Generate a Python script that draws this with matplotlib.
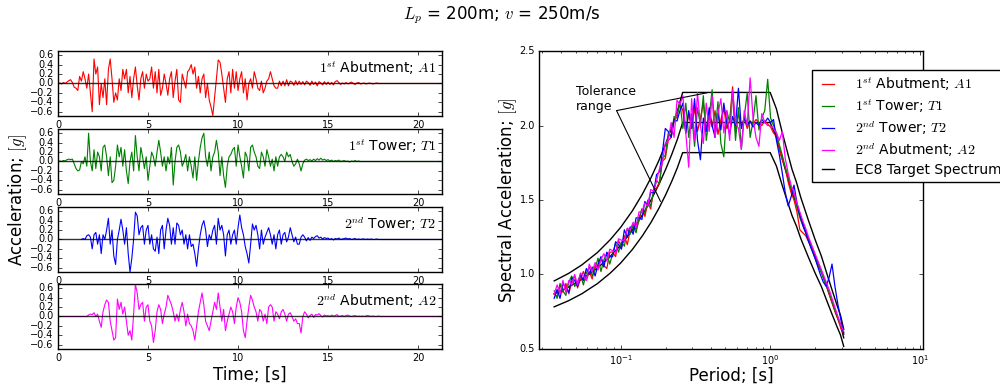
import numpy as np
import matplotlib
matplotlib.use("Agg")
import matplotlib.pyplot as plt

# %%
# Accelerograms, sampled every 0.1 s (read off the reference)
dt = 0.1

acc_A1 = [
    0.0, 0.01, -0.01, 0.02, 0.0, 0.03, 0.06, 0.08, 0.02, -0.08,
    -0.1, -0.15, 0.15, 0.05, 0.25, 0.1, -0.1, 0.2, -0.2, -0.6,
    0.52, 0.2, 0.35, -0.45, 0.0, -0.3, 0.1, -0.45, 0.3, 0.52,
    0.1, -0.4, -0.2, -0.35, 0.1, -0.15, 0.3, 0.1, 0.3, -0.2,
    0.15, -0.3, 0.1, 0.35, -0.05, -0.35, 0.1, 0.25, -0.1, 0.2,
    0.05, 0.1, 0.35, -0.1, 0.25, -0.2, 0.3, -0.25, -0.1, 0.2,
    0.0, -0.25, 0.1, 0.25, -0.3, 0.05, 0.3, -0.35, -0.4, 0.2,
    0.05, -0.1, 0.25, 0.3, 0.4, 0.2, 0.35, -0.1, 0.15, -0.2,
    0.1, 0.2, -0.3, 0.0, -0.35, -0.5, -0.68, -0.3, 0.1, 0.5,
    0.45, 0.2, -0.1, -0.4, 0.1, 0.25, -0.2, 0.3, -0.1, 0.25,
    -0.15, 0.1, 0.25, -0.2, 0.1, -0.35, 0.0, 0.1, -0.1, 0.25,
    0.1, -0.1, -0.15, 0.05, -0.2, -0.1, 0.05, 0.1, 0.25, 0.1,
    -0.05, -0.1, -0.1, 0.05, -0.05, 0.05, -0.05, 0.08, -0.05, 0.05,
    0.03, -0.04, 0.06, -0.03, 0.05, -0.02, 0.04, -0.03, 0.05, 0.02,
    -0.04, 0.05, -0.02, 0.03, -0.05, 0.04, 0.01, -0.03, 0.04, -0.02,
    0.03, -0.02, 0.02, -0.03, 0.04, 0.06, 0.02, -0.02, 0.01, -0.01,
    0.02, -0.01, 0.01, 0.03, 0.0, -0.02, 0.01, 0.02, -0.01, 0.0,
    0.01, -0.01, 0.0, 0.01, 0.0, -0.01, 0.0, 0.01, 0.0, 0.0,
    0.0, 0.0, 0.0, 0.0, 0.0, 0.0, 0.0, 0.0, 0.0, 0.0,
    0.0, 0.0, 0.0, 0.0, 0.0, 0.0, 0.0, 0.0, 0.0, 0.0,
    0.0, 0.0, 0.0, 0.0, 0.0, 0.0, 0.0, 0.0, 0.0, 0.0,
    0.0, 0.0, 0.0, 0.0,
]

acc_T1 = [
    0.0, 0.01, 0.0, 0.02, 0.01, 0.04, 0.05, 0.04, 0.05, -0.05,
    -0.15, -0.2, -0.18, 0.0, -0.05, 0.1, -0.1, 0.6, 0.0, -0.2,
    0.25, -0.15, 0.2, 0.1, -0.2, 0.3, 0.35, 0.1, -0.3, 0.1,
    -0.45, -0.4, -0.1, 0.35, 0.1, 0.3, -0.1, 0.25, -0.2, -0.47,
    0.0, 0.2, -0.2, 0.55, 0.1, -0.2, 0.3, 0.1, -0.15, 0.1,
    -0.4, -0.1, 0.2, 0.1, -0.1, 0.2, 0.45, 0.2, -0.1, 0.1,
    -0.2, 0.1, -0.05, 0.3, -0.5, 0.0, 0.3, 0.35, 0.2, -0.1,
    0.0, 0.15, -0.2, 0.1, -0.1, -0.35, 0.1, -0.4, 0.0, 0.3,
    0.5, 0.6, 0.1, -0.1, 0.2, -0.2, 0.1, 0.2, 0.45, 0.2,
    -0.3, 0.1, -0.3, -0.55, -0.1, 0.1, 0.15, 0.25, 0.3, -0.1,
    0.35, 0.1, -0.1, -0.35, 0.2, 0.1, -0.2, 0.3, 0.35, 0.2,
    0.1, -0.1, -0.15, 0.2, 0.1, -0.1, 0.25, 0.1, -0.1, 0.05,
    -0.2, 0.1, -0.1, 0.1, 0.15, 0.1, 0.0, 0.2, 0.1, 0.15,
    0.0, -0.1, -0.05, 0.05, -0.05, -0.2, -0.05, 0.03, 0.05, 0.02,
    0.04, 0.01, 0.05, 0.02, 0.06, 0.03, 0.07, 0.03, 0.05, 0.02,
    0.04, 0.01, 0.03, 0.0, 0.02, 0.01, 0.03, 0.0, 0.01, 0.02,
    0.0, 0.01, -0.01, 0.01, 0.0, 0.02, 0.0, 0.01, 0.0, 0.0,
    0.0, 0.0, 0.0, 0.0, 0.0, 0.0, 0.0, 0.0, 0.0, 0.0,
    0.0, 0.0, 0.0, 0.0, 0.0, 0.0, 0.0, 0.0, 0.0, 0.0,
    0.0, 0.0, 0.0, 0.0, 0.0, 0.0, 0.0, 0.0, 0.0, 0.0,
    0.0, 0.0, 0.0, 0.0, 0.0, 0.0, 0.0, 0.0, 0.0, 0.0,
    0.0, 0.0, 0.0, 0.0,
]

# T2 record starts at 1.3 s
acc_T2_start = 1.3
acc_T2 = [
    0.0, 0.02, 0.0, 0.08, 0.1, 0.05, -0.2,
    0.1, 0.15, -0.1, 0.1, -0.3, 0.1, 0.0, 0.2, 0.45, -0.1,
    0.2, -0.35, -0.53, 0.0, 0.2, 0.43, 0.2, -0.1, 0.25, -0.3,
    -0.69, -0.4, 0.0, 0.58, 0.5, 0.1, 0.25, 0.3, -0.1, 0.2,
    0.3, -0.1, 0.1, -0.2, -0.25, 0.05, -0.3, 0.2, 0.3, -0.2,
    0.2, 0.45, 0.3, -0.1, 0.25, -0.1, 0.35, 0.3, 0.1, 0.2,
    -0.1, 0.1, -0.2, 0.1, -0.15, -0.1, -0.3, -0.57, -0.2, 0.1,
    0.3, 0.4, 0.2, -0.15, 0.1, 0.0, 0.2, 0.3, -0.1, 0.45,
    0.2, 0.3, 0.1, -0.35, 0.1, 0.2, -0.1, 0.1, 0.2, -0.1,
    0.25, 0.52, 0.25, 0.1, -0.15, -0.3, -0.5, -0.1, 0.33, 0.2,
    0.3, 0.1, -0.2, 0.2, -0.1, 0.05, 0.15, 0.25, 0.1, -0.1,
    0.1, -0.2, 0.1, 0.2, -0.1, 0.1, 0.15, -0.05, 0.05, 0.25,
    0.1, -0.05, 0.05, -0.1, -0.1, 0.05, 0.1, 0.05, -0.03, 0.04,
    -0.02, 0.05, 0.02, 0.06, 0.08, 0.03, 0.05, 0.01, 0.04, 0.02,
    0.03, 0.0, 0.02, -0.01, 0.02, 0.01, 0.03, 0.0, 0.01, 0.02,
    0.03, 0.01, 0.02, 0.0, 0.01, 0.02, 0.0, 0.01, 0.0, 0.01,
    0.01, 0.0, 0.01, 0.0, 0.01, 0.0, 0.0, 0.01, 0.0, 0.0,
    0.0, 0.0, 0.0, 0.0, 0.0, 0.0, 0.0, 0.0, 0.0, 0.0,
    0.0, 0.0, 0.0, 0.0, 0.0, 0.0, 0.0, 0.0, 0.0, 0.0,
    0.0, 0.0, 0.0, 0.0, 0.0, 0.0, 0.0, 0.0, 0.0, 0.0,
    0.0, 0.0, 0.0, 0.0,
]

acc_A2 = [
    0.0, 0.0, 0.0, 0.0, 0.0, 0.0, 0.0, 0.0, 0.0, 0.0,
    0.0, 0.0, 0.0, 0.0, 0.0, 0.0, 0.0, 0.03, 0.05, 0.04,
    0.08, 0.0, 0.05, -0.1, -0.23, 0.1, 0.25, 0.35, 0.3, -0.1,
    -0.3, -0.5, -0.45, 0.37, 0.15, 0.3, 0.05, 0.2, -0.1, -0.4,
    -0.3, -0.5, 0.05, 0.68, 0.5, 0.15, 0.25, 0.3, -0.1, 0.2,
    0.25, -0.1, -0.2, -0.55, -0.3, 0.1, 0.25, 0.15, -0.15, 0.05,
    0.2, 0.45, 0.35, 0.25, 0.1, -0.1, 0.05, -0.1, 0.15, 0.3,
    0.1, -0.2, 0.05, -0.15, -0.2, -0.3, -0.5, -0.2, 0.1, 0.3,
    0.5, 0.25, -0.1, -0.2, -0.3, -0.1, 0.1, 0.3, 0.15, 0.5,
    0.2, -0.1, 0.15, -0.3, -0.1, 0.05, 0.2, 0.1, -0.15, 0.2,
    0.4, 0.3, 0.1, -0.3, -0.45, -0.1, 0.2, 0.45, 0.35, 0.2,
    0.1, -0.1, 0.15, 0.1, -0.1, 0.05, -0.15, 0.2, 0.25, 0.2,
    -0.1, 0.1, 0.05, -0.05, 0.1, 0.15, 0.05, -0.1, 0.05, 0.08,
    0.0, -0.1, -0.05, -0.15, -0.15, -0.35, 0.0, 0.1, 0.05, -0.03,
    0.02, 0.05, -0.02, 0.04, 0.03, 0.06, 0.02, -0.01, 0.03, 0.01,
    0.02, 0.0, 0.03, 0.01, 0.02, 0.04, 0.0, 0.01, 0.02, 0.0,
    0.02, 0.03, 0.01, 0.0, 0.01, 0.02, 0.0, 0.01, 0.0, 0.01,
    0.0, 0.01, 0.02, 0.01, 0.0, 0.01, 0.0, 0.0, 0.01, 0.0,
    0.0, 0.0, 0.0, 0.0, 0.0, 0.0, 0.0, 0.0, 0.0, 0.0,
    0.0, 0.0, 0.0, 0.0, 0.0, 0.0, 0.0, 0.0, 0.0, 0.0,
    0.0, 0.0, 0.0, 0.0, 0.0, 0.0, 0.0, 0.0, 0.0, 0.0,
    0.0, 0.0, 0.0, 0.0,
]

# %%
# Response spectra on a log-spaced period grid (100 periods, 0.036 s - 3.1 s)
periods = np.geomspace(0.036, 3.1, 100)

sa_A1 = [
    0.87, 0.85, 0.93, 0.88, 0.94, 0.87, 0.95, 0.99, 0.91, 0.97,
    1.02, 0.96, 1.02, 0.97, 1.06, 1.05, 1.11, 1.06, 1.04, 1.15,
    1.15, 1.12, 1.23, 1.18, 1.26, 1.20, 1.30, 1.34, 1.30, 1.36,
    1.44, 1.39, 1.48, 1.44, 1.57, 1.58, 1.62, 1.76, 1.78, 1.90,
    1.92, 2.03, 2.08, 2.14,
    2.10, 1.95, 2.08, 1.98, 2.12, 1.96, 2.05, 2.15, 1.97, 2.06,
    1.99, 2.10, 1.94, 2.04, 2.12, 1.98, 2.03, 2.26, 1.96, 2.08,
    2.00, 2.05, 1.98, 2.03, 2.01, 2.04, 2.02, 2.00, 2.03, 2.01,
    1.99, 1.95, 1.93, 1.84, 1.77, 1.72, 1.62, 1.55, 1.50, 1.42,
    1.30, 1.28, 1.26, 1.22, 1.18, 1.12, 1.07, 1.03, 0.99, 0.93,
    0.87, 0.81, 0.75, 0.70, 0.64, 0.60,
]

sa_T1 = [
    0.89, 0.84, 0.94, 0.89, 0.86, 0.95, 0.99, 0.92, 0.95, 1.00,
    0.93, 1.01, 1.05, 0.99, 1.04, 1.11, 1.02, 1.10, 1.14, 1.07,
    1.14, 1.21, 1.15, 1.22, 1.19, 1.31, 1.27, 1.33, 1.28, 1.38,
    1.44, 1.41, 1.50, 1.46, 1.56, 1.63, 1.61, 1.78, 1.80, 1.95,
    1.93, 2.06, 2.05, 2.16,
    1.98, 2.15, 1.92, 2.08, 1.86, 2.12, 2.00, 2.20, 1.90, 2.05,
    2.24, 1.95, 2.16, 1.88, 1.79, 2.10, 2.02, 2.22, 1.90, 2.12,
    1.84, 2.06, 2.22, 1.92, 2.03, 2.20, 1.97, 2.05, 2.10, 2.31,
    2.05, 2.00, 1.95, 1.87, 1.80, 1.72, 1.66, 1.58, 1.54, 1.45,
    1.38, 1.33, 1.28, 1.23, 1.17, 1.12, 1.08, 1.03, 0.98, 0.93,
    0.88, 0.82, 0.76, 0.71, 0.66, 0.61,
]

sa_T2 = [
    0.84, 0.90, 0.84, 0.94, 0.91, 0.88, 0.98, 0.96, 0.92, 1.00,
    0.96, 1.04, 1.00, 1.05, 0.99, 1.07, 1.12, 1.05, 1.15, 1.12,
    1.12, 1.22, 1.20, 1.17, 1.30, 1.25, 1.32, 1.27, 1.38, 1.38,
    1.37, 1.49, 1.46, 1.55, 1.55, 1.67, 1.69, 1.82, 1.98, 1.96,
    1.92, 2.04, 2.03, 2.10,
    2.15, 1.95, 2.10, 1.98, 2.18, 1.90, 1.77, 2.05, 1.96, 2.12,
    2.00, 1.92, 2.08, 1.97, 2.15, 2.02, 1.94, 2.06, 2.00, 2.25,
    1.98, 2.05, 2.00, 2.03, 1.99, 2.02, 2.00, 2.04, 2.02, 2.05,
    2.02, 2.04, 1.90, 1.80, 1.68, 1.55, 1.46, 1.52, 1.60, 1.48,
    1.40, 1.33, 1.28, 1.22, 1.17, 1.12, 1.06, 1.00, 0.95, 0.92,
    0.98, 1.07, 0.92, 0.80, 0.70, 0.60,
]

sa_A2 = [
    0.87, 0.93, 0.87, 0.96, 0.88, 0.96, 0.93, 1.00, 0.93, 1.01,
    0.99, 0.96, 1.07, 1.02, 1.08, 1.03, 1.10, 1.14, 1.09, 1.17,
    1.16, 1.14, 1.24, 1.23, 1.23, 1.31, 1.30, 1.35, 1.32, 1.42,
    1.42, 1.48, 1.46, 1.57, 1.56, 1.63, 1.71, 1.75, 1.88, 1.90,
    2.02, 1.92, 2.17, 2.14,
    2.20, 1.95, 1.72, 2.18, 1.90, 2.22, 2.00, 1.88, 2.15, 1.96,
    2.20, 1.92, 2.08, 2.18, 1.95, 2.10, 1.90, 2.24, 2.02, 1.98,
    1.84, 2.10, 2.00, 2.32, 2.05, 1.92, 1.86, 2.08, 2.02, 2.00,
    2.00, 1.98, 1.95, 1.90, 1.96, 1.78, 1.68, 1.60, 1.55, 1.48,
    1.42, 1.36, 1.31, 1.25, 1.20, 1.15, 1.10, 1.05, 1.00, 0.95,
    0.90, 0.84, 0.78, 0.72, 0.66, 0.62,
]

# EC8 target spectrum and +/-10% tolerance
target_T = [0.036, 0.045, 0.055, 0.07, 0.085, 0.1, 0.12, 0.14, 0.16, 0.18,
            0.2, 0.22, 0.24, 0.26, 1.0, 1.1, 1.2, 1.3, 1.4, 1.5,
            1.6, 1.8, 2.0, 2.2, 2.4, 2.6, 2.8, 2.95, 3.1]
target_sa = [0.87, 0.916, 0.967, 1.043, 1.12, 1.196, 1.298, 1.40, 1.501, 1.603,
             1.705, 1.807, 1.909, 2.02, 2.02, 1.92, 1.78, 1.66, 1.55, 1.47,
             1.38, 1.24, 1.12, 1.02, 0.91, 0.81, 0.72, 0.66, 0.575]
tol = 0.10

records = [
    (r"$1^{st}$ Abutment; $A1$", "#ff0000", 0.0, acc_A1, sa_A1),
    (r"$1^{st}$ Tower; $T1$", "#008000", 0.0, acc_T1, sa_T1),
    (r"$2^{nd}$ Tower; $T2$", "#0000ff", acc_T2_start, acc_T2, sa_T2),
    (r"$2^{nd}$ Abutment; $A2$", "#ff00ff", 0.0, acc_A2, sa_A2),
]

# %%
plt.style.use("classic")
plt.rcParams.update({
    "figure.facecolor": "white",
    "savefig.facecolor": "white",
    "font.size": 10,
    "xtick.labelsize": 7,
    "ytick.labelsize": 7,
    "xtick.major.size": 3,
    "ytick.major.size": 3,
    "xtick.minor.size": 1.5,
    "ytick.minor.size": 1.5,
    "xtick.major.pad": 3,
    "ytick.major.pad": 3,
})

fig = plt.figure(figsize=(10, 3.87), dpi=100)

# left column: four accelerograms
bottoms = [0.7003, 0.4987, 0.2972, 0.0982]
for (label, color, t0, acc, _), b in zip(records, bottoms):
    ax = fig.add_axes([0.058, b, 0.384, 0.168])
    t = t0 + dt * np.arange(len(acc))
    ax.plot(t, acc, color=color, lw=0.8)
    ax.axhline(0, color="k", lw=1.0, alpha=0.8)
    ax.set_xlim(0, 21.33)
    ax.set_ylim(-0.69, 0.69)
    ax.set_xticks([0, 5, 10, 15, 20])
    ax.set_yticks([-0.6, -0.4, -0.2, 0.0, 0.2, 0.4, 0.6])
    ax.text(0.985, 0.74, label, transform=ax.transAxes,
            ha="right", va="center", fontsize=10)
    if b == bottoms[-1]:
        ax.set_xlabel("Time; [s]", fontsize=12, labelpad=2)

fig.text(0.018, 0.483, r"Acceleration; $[g]$", rotation=90,
         ha="center", va="center", fontsize=12)

# right: response spectra
ax = fig.add_axes([0.539, 0.0982, 0.384, 0.770])
ax.set_xscale("log")
tgt = np.array(target_sa)
ax.plot(target_T, tgt * (1 + tol), color="k", lw=1.0)
ax.plot(target_T, tgt * (1 - tol), color="k", lw=1.0)
h_target, = ax.plot(target_T, tgt, color="k", lw=1.0)

handles = []
for label, color, _, _, sa in records:
    h, = ax.plot(periods, sa, color=color, lw=0.9, label=label)
    handles.append(h)
handles.append(h_target)

ax.set_xlim(0.0285, 10.5)
ax.set_ylim(0.5, 2.5)
ax.set_yticks([0.5, 1.0, 1.5, 2.0, 2.5])
ax.set_xlabel("Period; [s]", fontsize=12, labelpad=0)
ax.set_ylabel(r"Spectral Acceleration; $[g]$", fontsize=12, labelpad=0)

ax.text(0.05, 2.27, "Tolerance\nrange", ha="left", va="top", fontsize=9)
ax.annotate("", xy=(0.38, 2.22), xytext=(0.094, 2.10),
            arrowprops=dict(arrowstyle="-", color="k", lw=0.8,
                            shrinkA=0, shrinkB=0))
ax.annotate("", xy=(0.185, 1.49), xytext=(0.094, 2.10),
            arrowprops=dict(arrowstyle="-", color="k", lw=0.8,
                            shrinkA=0, shrinkB=0))

ax.legend(handles, [r"$1^{st}$ Abutment; $A1$", r"$1^{st}$ Tower; $T1$",
                    r"$2^{nd}$ Tower; $T2$", r"$2^{nd}$ Abutment; $A2$",
                    "EC8 Target Spectrum"],
          loc="upper left", bbox_to_anchor=(0.812, 0.819),
          bbox_transform=fig.transFigure, borderaxespad=0,
          fontsize=10, handlelength=1.5, handletextpad=1.2,
          labelspacing=0.3)

fig.text(0.502, 0.961, r"$L_p$ = 200m; $v$ = 250m/s",
         ha="center", va="center", fontsize=12)

fig.savefig("out.png", dpi=100)
